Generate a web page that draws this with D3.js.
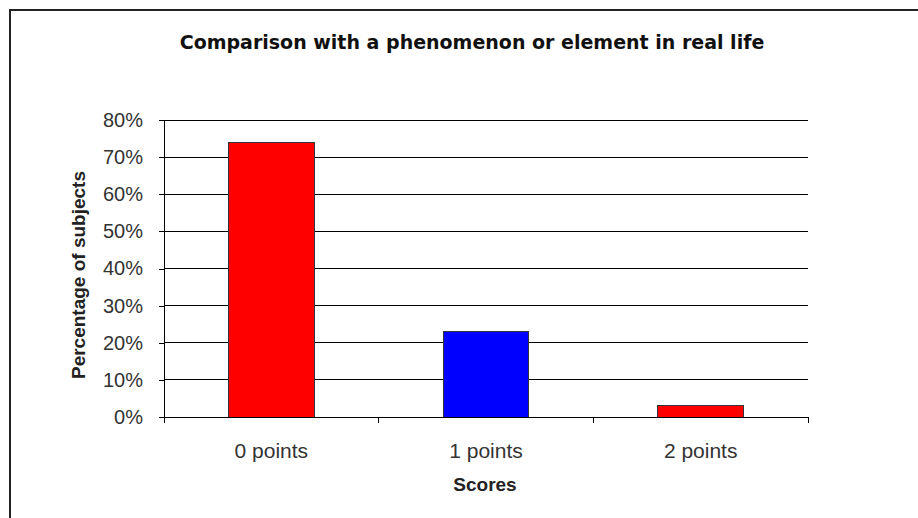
<!DOCTYPE html>
<html>
<head>
<meta charset="utf-8">
<script src="https://cdn.jsdelivr.net/npm/d3@7"></script>
<style>
body { margin: 0; background: #fff; }
</style>
</head>
<body>
<svg width="918" height="518" font-family="Arial, 'Liberation Sans', sans-serif"></svg>
<script>
const categories = ['0 points', '1 points', '2 points']
const values = [0.74, 0.23, 0.03]
const colors = ['#ff0000', '#0000ff', '#ff0000']
const yTicks = [0, 0.1, 0.2, 0.3, 0.4, 0.5, 0.6, 0.7, 0.8]

const svg = d3.select('svg')
const margin = {left: 164, right: 110, top: 120, bottom: 101}
const width = 918, height = 518

// chart frame (clipped on right/bottom in reference)
svg.append('rect')
	.attr('x', 10).attr('y', 10)
	.attr('width', 920).attr('height', 520)
	.attr('fill', 'none').attr('stroke', '#222').attr('stroke-width', 2)

const x = d3.scaleBand()
	.domain(categories)
	.range([margin.left, width - margin.right])
	.paddingInner(0.6).paddingOuter(0.3)

const xEdge = d3.scaleLinear()
	.domain([0, categories.length])
	.range([margin.left, width - margin.right])

const y = d3.scaleLinear()
	.domain([0, 0.8])
	.range([height - margin.bottom, margin.top])

// gridlines
svg.append('g')
	.selectAll('line')
	.data(yTicks.slice(1))
	.join('line')
	.attr('x1', margin.left).attr('x2', width - margin.right)
	.attr('y1', d => y(d)).attr('y2', d => y(d))
	.attr('stroke', '#000').attr('stroke-width', 1)
	.attr('shape-rendering', 'crispEdges')

// bars
svg.append('g')
	.selectAll('rect')
	.data(values)
	.join('rect')
	.attr('x', (d, i) => x(categories[i]))
	.attr('y', d => y(d))
	.attr('width', x.bandwidth())
	.attr('height', d => y(0) - y(d))
	.attr('fill', (d, i) => colors[i])
	.attr('stroke', '#333').attr('stroke-width', 1)
	.attr('shape-rendering', 'crispEdges')

// y axis
const yAxis = svg.append('g')
	.attr('transform', `translate(${margin.left},0)`)
	.call(d3.axisLeft(y).tickValues(yTicks).tickFormat(d3.format('.0%')).tickSize(5).tickPadding(16))
yAxis.select('.domain').attr('stroke', '#000').attr('shape-rendering', 'crispEdges')
yAxis.selectAll('.tick line').attr('stroke', '#000').attr('shape-rendering', 'crispEdges')
yAxis.selectAll('text')
	.attr('font-size', 20).attr('fill', '#333')
	.attr('font-family', 'Arial, "Liberation Sans", sans-serif')

// x axis
const xAxis = svg.append('g')
	.attr('transform', `translate(0,${height - margin.bottom})`)
xAxis.append('line')
	.attr('x1', margin.left).attr('x2', width - margin.right)
	.attr('stroke', '#000').attr('shape-rendering', 'crispEdges')
xAxis.selectAll('.edge')
	.data(d3.range(categories.length + 1))
	.join('line')
	.attr('class', 'edge')
	.attr('x1', d => xEdge(d)).attr('x2', d => xEdge(d))
	.attr('y1', 0).attr('y2', 6)
	.attr('stroke', '#000').attr('shape-rendering', 'crispEdges')
xAxis.selectAll('.lbl')
	.data(categories)
	.join('text')
	.attr('class', 'lbl')
	.attr('x', d => x(d) + x.bandwidth() / 2)
	.attr('y', 41)
	.attr('text-anchor', 'middle')
	.attr('font-size', 21).attr('fill', '#333')
	.text(d => d)

// titles
svg.append('text')
	.attr('x', 472).attr('y', 49)
	.attr('text-anchor', 'middle')
	.attr('font-family', '"DejaVu Sans", Verdana, sans-serif')
	.attr('font-size', 19).attr('font-weight', 'bold').attr('fill', '#111')
	.text('Comparison with a phenomenon or element in real life')

svg.append('text')
	.attr('x', 485).attr('y', 491)
	.attr('text-anchor', 'middle')
	.attr('font-size', 19).attr('font-weight', 'bold').attr('fill', '#222')
	.text('Scores')

svg.append('text')
	.attr('transform', `translate(85,275) rotate(-90)`)
	.attr('text-anchor', 'middle')
	.attr('font-size', 19).attr('font-weight', 'bold').attr('fill', '#222')
	.text('Percentage of subjects')
</script>
</body>
</html>
